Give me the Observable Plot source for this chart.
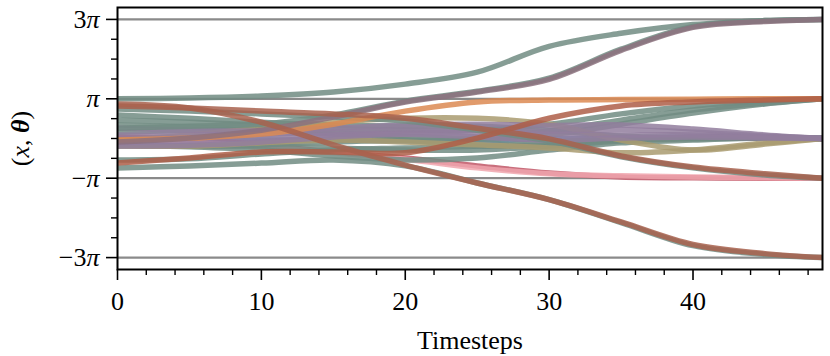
<!DOCTYPE html>
<html>
<head>
<meta charset="utf-8">
<script src="https://cdn.jsdelivr.net/npm/d3@7"></script>
<script src="https://cdn.jsdelivr.net/npm/@observablehq/plot@0.6"></script>
<style>
  html, body { margin: 0; padding: 0; background: #fff; }
  #chart { width: 830px; height: 356px; }
</style>
</head>
<body>
<div id="chart"></div>
<script>
// Timesteps at which trajectories were read (values in units of π)
const timesteps = [0, 5, 10, 15, 20, 25, 30, 35, 40, 45, 49];

// Trajectories ending at 3π
const topGreen   = [1.0, 1.02, 1.07, 1.17, 1.37, 1.67, 2.32, 2.65, 2.87, 2.97, 3.0];
const mauveUp    = [-0.09, 0.01, 0.21, 0.54, 0.92, 1.17, 1.49, 2.22, 2.80, 2.95, 3.0];
const greenUp    = [0.26, 0.31, 0.36, 0.59, 0.94, 1.19, 1.52, 2.25, 2.82, 2.97, 3.0];
// Trajectories ending at π
const orangePi   = [-0.04, 0.01, 0.11, 0.36, 0.69, 0.92, 0.97, 0.98, 0.99, 1.0, 1.0];
const redPi      = [-0.62, -0.49, -0.34, -0.34, -0.36, 0.01, 0.51, 0.82, 0.92, 0.97, 1.0];
const greenPiA   = [0.46, 0.41, 0.34, 0.26, 0.21, 0.21, 0.36, 0.62, 0.82, 0.94, 1.0];
const greenPiB   = [0.16, 0.21, 0.21, 0.14, 0.06, 0.01, 0.19, 0.46, 0.72, 0.89, 1.0];
const greenPiC   = [-0.16, -0.19, -0.16, -0.09, -0.04, -0.04, 0.09, 0.36, 0.64, 0.87, 1.0];
// Trajectories ending at 0
const purpleA    = [0.26, 0.21, 0.19, 0.26, 0.34, 0.36, 0.33, 0.34, 0.24, 0.09, 0.0];
const purpleB    = [0.09, 0.09, 0.11, 0.16, 0.21, 0.21, 0.19, 0.22, 0.16, 0.06, 0.0];
const purpleC    = [-0.11, -0.06, 0.01, 0.09, 0.14, 0.14, 0.11, 0.09, 0.09, 0.04, 0.0];
const purpleD    = [-0.19, -0.17, -0.09, 0.04, 0.11, 0.04, -0.04, 0.01, 0.04, 0.01, 0.0];
const oliveA     = [-0.04, 0.09, 0.26, 0.41, 0.51, 0.51, 0.36, -0.04, -0.29, -0.14, 0.0];
const oliveB     = [-0.19, -0.19, -0.11, -0.04, -0.09, -0.16, -0.24, -0.36, -0.29, -0.11, 0.0];
const blueZero   = [0.01, -0.01, -0.04, -0.04, -0.06, -0.06, -0.01, 0.01, 0.04, 0.04, 0.0];
const greenZeroA = [0.59, 0.51, 0.41, 0.34, 0.31, 0.31, 0.21, 0.06, 0.01, 0.01, 0.0];
const greenZeroB = [0.34, 0.29, 0.21, 0.11, -0.04, -0.19, -0.16, -0.04, 0.01, 0.01, 0.0];
const greenZeroC = [-0.19, -0.19, -0.19, -0.24, -0.29, -0.29, -0.19, -0.06, -0.01, 0.01, 0.0];
const greenZeroD = [-0.16, -0.21, -0.29, -0.44, -0.54, -0.49, -0.29, -0.11, -0.04, 0.01, 0.0];
const greenZeroE = [-0.54, -0.51, -0.39, -0.29, -0.24, -0.19, -0.09, -0.01, 0.01, 0.01, 0.0];
// Trajectories ending at −π
const brownNegPi = [0.82, 0.77, 0.69, 0.62, 0.51, 0.26, -0.01, -0.44, -0.72, -0.89, -1.0];
const greenNegPi = [0.74, 0.69, 0.62, 0.54, 0.44, 0.21, -0.06, -0.46, -0.74, -0.92, -1.0];
const pinkNegPi  = [-0.06, -0.09, -0.21, -0.36, -0.52, -0.74, -0.89, -0.94, -0.97, -0.99, -1.0];
const crimsonNegPi = [0.04, -0.01, -0.16, -0.34, -0.49, -0.69, -0.87, -0.97, -0.99, -1.0, -1.0];
// Trajectories ending at −3π
const brownNeg3Pi = [0.87, 0.77, 0.41, -0.16, -0.67, -1.12, -1.54, -2.10, -2.67, -2.90, -3.0];
const greenNeg3Pi = [-0.74, -0.69, -0.62, -0.54, -0.69, -1.12, -1.54, -2.12, -2.70, -2.92, -3.0];

// Axis ticks (units of π)
const yMajorTicks = [-3, -1, 1, 3];
const yMajorLabels = ["−3π", "−π", "π", "3π"];
const yMinorTicks = [-2.5, -2, -1.5, -0.5, 0, 0.5, 1.5, 2, 2.5];
const xMajorTicks = [0, 10, 20, 30, 40];
const xMinorTicks = [2, 4, 6, 8, 12, 14, 16, 18, 22, 24, 26, 28, 32, 34, 36, 38, 42, 44, 46, 48];
const referenceLevels = [-3, -1, 1, 3];

// Styles (kept apart from the data)
const palette = {
  green: "#718c83", mauve: "#8c717e", orange: "#dc8a52", red: "#ae5e48",
  brown: "#a8624d", purple: "#927e9e", olive: "#a99b70", blue: "#5a86b5",
  pink: "#f0a6ae", crimson: "#c05666"
};
// drawing order: first drawn is underneath
const seriesList = [
  ["blueZero", blueZero, "blue"],
  ["crimsonNegPi", crimsonNegPi, "crimson"], ["pinkNegPi", pinkNegPi, "pink"],
  ["greenZeroA", greenZeroA, "green"], ["greenZeroB", greenZeroB, "green"],
  ["greenZeroC", greenZeroC, "green"], ["greenZeroD", greenZeroD, "green"],
  ["greenZeroE", greenZeroE, "green"],
  ["greenPiA", greenPiA, "green"], ["greenPiB", greenPiB, "green"], ["greenPiC", greenPiC, "green"],
  ["oliveA", oliveA, "olive"], ["oliveB", oliveB, "olive"],
  ["purpleA", purpleA, "purple"], ["purpleB", purpleB, "purple"],
  ["purpleC", purpleC, "purple"], ["purpleD", purpleD, "purple"],
  ["greenNegPi", greenNegPi, "green"], ["greenNeg3Pi", greenNeg3Pi, "green"],
  ["greenUp", greenUp, "green"], ["topGreen", topGreen, "green"],
  ["orangePi", orangePi, "orange"], ["mauveUp", mauveUp, "mauve"],
  ["redPi", redPi, "red"], ["brownNegPi", brownNegPi, "brown"],
  ["brownNeg3Pi", brownNeg3Pi, "brown"]
];

const rows = [];
seriesList.forEach(([name, vals, col]) => {
  vals.forEach((v, j) => rows.push({series: name, t: timesteps[j], v, color: palette[col]}));
});

const FONT = "'Liberation Serif', 'DejaVu Serif', serif";

const chart = Plot.plot({
  width: 830,
  height: 356,
  marginLeft: 117,
  marginRight: 8,
  marginTop: 7,
  marginBottom: 87,
  style: {fontFamily: FONT, background: "#fff", color: "black"},
  x: {domain: [0, 49], label: null},
  y: {domain: [-3.3, 3.3], label: null},
  color: {type: "identity"},
  marks: [
    Plot.ruleY(referenceLevels, {stroke: "#8a8a8a", strokeWidth: 2.2}),
    Plot.line(rows, {x: "t", y: "v", z: "series", stroke: "color", strokeWidth: 5.5,
      strokeOpacity: 0.85, strokeLinecap: "butt", curve: "catmull-rom"}),
    Plot.axisY(yMajorTicks, {tickSize: 11, tickPadding: 7, strokeWidth: 1.6, fontSize: 26,
      label: null, tickFormat: (d) => yMajorLabels[yMajorTicks.indexOf(d)]}),
    Plot.axisY(yMinorTicks, {tickSize: 6, strokeWidth: 1.4, label: null, tickFormat: () => ""}),
    Plot.axisX(xMajorTicks, {tickSize: 11, tickPadding: 11, strokeWidth: 1.6, fontSize: 26,
      label: null, tickFormat: (d) => String(d)}),
    Plot.axisX(xMinorTicks, {tickSize: 6, strokeWidth: 1.4, label: null, tickFormat: () => ""}),
    Plot.text(["Timesteps"], {frameAnchor: "bottom", dy: 71, lineAnchor: "middle",
      textAnchor: "middle", fontSize: 26, fill: "black"}),
    Plot.text(["(x, θ)"], {frameAnchor: "left", dx: -97, rotate: -90, textAnchor: "middle",
      lineAnchor: "middle", fontSize: 26, fill: "black"}),
    Plot.frame({stroke: "black", strokeWidth: 2})
  ]
});

// Render π and math symbols in italic, like the original math text
d3.select(chart).selectAll("text").each(function() {
  const el = d3.select(this);
  const s = el.text();
  if (s.includes("π") && s.length <= 3) {
    const pre = s.replace("π", "");
    el.text(null);
    if (pre) el.append("tspan").text(pre);
    el.append("tspan").attr("font-style", "italic").text("π");
  } else if (s === "(x, θ)") {
    el.attr("font-weight", "normal");
    el.text(null);
    el.append("tspan").text("(");
    el.append("tspan").attr("font-style", "italic").text("x");
    el.append("tspan").text(", ");
    el.append("tspan").attr("font-style", "italic").attr("font-weight", "bold").text("θ");
    el.append("tspan").text(")");
  }
});

document.getElementById("chart").appendChild(chart);
</script>
</body>
</html>
